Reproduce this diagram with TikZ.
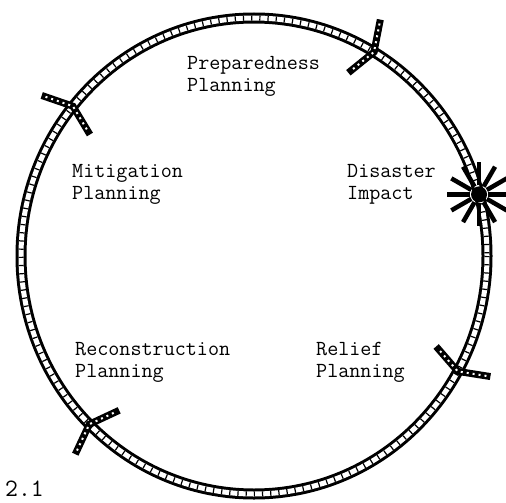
\documentclass[tikz,border=0pt]{standalone}
\usetikzlibrary{calc}
\tikzset{
  ringband/.style={line width=11pt},
  ringcore/.style={white, line width=5pt},
  ringlinks/.style={line width=5pt, dash pattern=on 1.2pt off 7pt},
  ringarm/.style={line width=7pt, line join=miter},
  armcore/.style={white, line width=2pt, dash pattern=on 2pt off 4pt},
  burstray/.style={line width=4.5pt},
  phase/.style={font=\fontsize{21.5}{22}\selectfont\ttfamily, align=left, anchor=base west, inner sep=0pt},
  fignum/.style={font=\fontsize{25}{28}\selectfont\ttfamily, anchor=base west, inner sep=0pt},
}
\begin{document}
\begin{tikzpicture}[x=1pt,y=1pt,yscale=-1,xscale=1]
  \useasboundingbox (0,0) rectangle (506,503);
  % planning cycle ring
  \coordinate (c) at (254,256);
  \draw[ringband] (c) ellipse [x radius=233, y radius=238];
  \draw[ringcore] (c) ellipse [x radius=233, y radius=238];
  \draw[ringlinks] (c) ellipse [x radius=233, y radius=238];

  % direction marks on the ring
  \foreach \a/\n in {-59/prepmark, -141/mitimark, 135/reconmark, 29/reliefmark}{
    \coordinate (\n) at ($(c)+(\a:233 and 238)$);
    \draw[ringarm] (\n) ++(\a-20:33) -- (\n) -- ++(\a-160:33);
    \draw[armcore] (\n) ++(\a-20:29) -- (\n) -- ++(\a-160:29);
  }

  % impact burst
  \coordinate (impact) at ($(c)+(-15:233 and 238)$);
  \foreach \r in {0,30,...,330}
    \draw[burstray] ($(impact)+(\r:9)$) -- ($(impact)+(\r:32)$);
  \fill (impact) circle [radius=8];

  % Text Node
  \node[phase] (prep) at (187,92) {Preparedness\\Planning};
  % Text Node
  \node[phase] (miti) at (72,199) {Mitigation\\Planning};
  % Text Node
  \node[phase] (disaster) at (347,199) {Disaster\\Impact};
  % Text Node
  \node[phase] (recon) at (75,377) {Reconstruction\\Planning};
  % Text Node
  \node[phase] (relief) at (316,377) {Relief\\Planning};
  % Text Node
  \node[fignum] (fig) at (5,496) {2.1};
\end{tikzpicture}
\end{document}
